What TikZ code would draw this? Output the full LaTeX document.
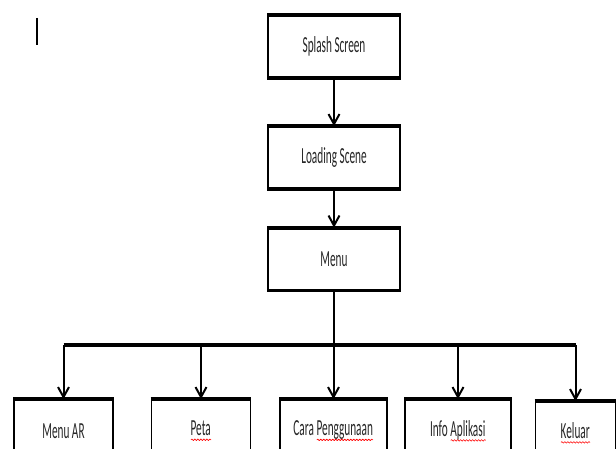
\documentclass[tikz,border=0pt]{standalone}
\usepackage{fontspec}
\newfontfamily\boxfont[FakeStretch=0.49]{Carlito}
\usetikzlibrary{arrows.meta,decorations.pathmorphing}
\newlength\salahw
\newcommand\salah[1]{\settowidth\salahw{#1}\rlap{#1}\raisebox{-5pt}{\tikz\draw[red,line width=0.6pt,decorate,decoration={snake,amplitude=0.8pt,segment length=3pt}] (0,0)--(\salahw,0);}}
\begin{document}
\begin{tikzpicture}[x=1pt,y=1pt,>={Straight Barb[length=10pt,width=11pt]}, line join=round]
	\tikzset{kotak/.style={draw, line width=1.8pt, inner sep=0pt, minimum height=61pt, font=\boxfont\fontsize{23}{25}\selectfont, text=black!85},
		panah/.style={->, line width=2pt}}
	\def\lebar{132} \def\xc{334} % kolom tengah
	\useasboundingbox (0,0) rectangle (616,448);
	\clip (0,0) rectangle (616,448);
	\draw[line width=1.3pt] (37,430)--(37,403);
	\node[kotak, minimum width=\lebar] (splash) at (\xc,401.5) {Splash Screen};
	\node[kotak, minimum width=\lebar] (loading) at (\xc,290.5) {Loading Scene};
	\node[kotak, minimum width=\lebar] (menu) at (\xc,189) {Menu};
	\coordinate (bus) at (\xc,103);
	\node[kotak, minimum width=99, minimum height=62] (ar) at (63.5,17) {Menu AR};
	\node[kotak, minimum width=99, minimum height=62] (peta) at (201,17) {\salah{Peta}};
	\node[kotak, minimum width=107, minimum height=62] (cara) at (333.5,17) {Cara \salah{Penggunaan}};
	\node[kotak, minimum width=106, minimum height=62] (info) at (458,17) {Info \salah{Aplikasi}};
	\node[kotak, minimum width=80, minimum height=62] (keluar) at (575.5,15) {\salah{Keluar}};
	\foreach \n in {splash,loading,menu,ar,peta,cara,info,keluar}{
		\draw[line width=3.8pt] (\n.north west)--(\n.north east);
		\draw[line width=3.8pt] (\n.south west)--(\n.south east);
	}
	\draw[panah] (splash.south)--(loading.north);
	\draw[panah] (loading.south)--(menu.north);
	\draw[line width=2pt] (menu.south)--(bus);
	\draw[line width=3.8pt] (bus -| ar.north)--(bus -| keluar.north);
	\foreach \n in {ar,peta,cara,info,keluar}
		\draw[panah] (bus -| \n.north)--(\n.north);
\end{tikzpicture}
\end{document}
